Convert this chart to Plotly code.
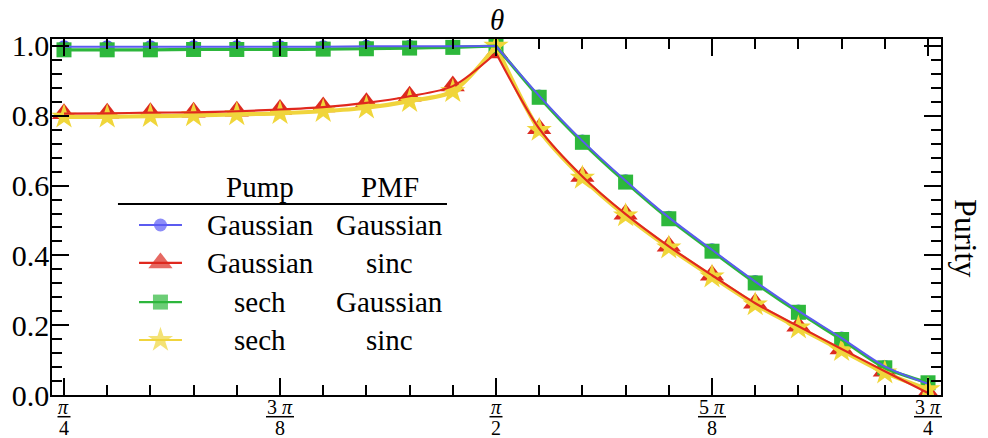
import numpy as np
import plotly.graph_objects as go

pi = np.pi

# theta grid in units of pi
theta_over_pi = [0.250, 0.275, 0.300, 0.325, 0.350, 0.375, 0.400, 0.425, 0.450, 0.475, 0.500,
                 0.525, 0.550, 0.575, 0.600, 0.625, 0.650, 0.675, 0.700, 0.725, 0.750]

purity_gauss_gauss = [0.998, 0.998, 0.998, 0.998, 0.998, 0.998, 0.998, 0.999, 0.999, 0.999, 1.000,
                      0.857, 0.728, 0.614, 0.509, 0.416, 0.325, 0.241, 0.163, 0.082, 0.032]
purity_gauss_sinc = [0.806, 0.807, 0.809, 0.810, 0.813, 0.818, 0.825, 0.837, 0.856, 0.885, 0.980,
                     0.763, 0.626, 0.518, 0.426, 0.343, 0.263, 0.197, 0.132, 0.068, 0.006]
purity_sech_gauss = [0.989, 0.989, 0.989, 0.990, 0.990, 0.990, 0.991, 0.992, 0.994, 0.996, 1.000,
                     0.853, 0.724, 0.610, 0.505, 0.412, 0.321, 0.237, 0.159, 0.078, 0.035]
purity_sech_sinc = [0.797, 0.797, 0.799, 0.801, 0.804, 0.807, 0.813, 0.823, 0.842, 0.870, 1.000,
                    0.759, 0.622, 0.514, 0.422, 0.339, 0.259, 0.193, 0.128, 0.064, 0.016]

pump_labels = ["Gaussian", "Gaussian", "sech", "sech"]
pmf_labels = ["Gaussian", "sinc", "Gaussian", "sinc"]

major_over_pi = [0.25, 0.375, 0.5, 0.625, 0.75]
tick_numerators = ["<i>π</i>", "3 <i>π</i>", "<i>π</i>", "5 <i>π</i>", "3 <i>π</i>"]
tick_denominators = ["4", "8", "2", "8", "4"]
y_major = [0.0, 0.2, 0.4, 0.6, 0.8, 1.0]
y_major_text = ["0.0", "0.2", "0.4", "0.6", "0.8", "1.0"]

theta = [t * pi for t in theta_over_pi]
major_vals = [t * pi for t in major_over_pi]
minor_vals = [t for t, tp in zip(theta, theta_over_pi) if tp not in major_over_pi]

FONT = "Liberation Serif"
XR = [0.7636, 2.3798]
PLOT_W = 889.0

series = [
    dict(y=purity_gauss_gauss, color="#5b5bf5", lcolor="#5b5bf0", symbol="circle", size=13, lw=2.0),
    dict(y=purity_gauss_sinc, color="#dc2a20", lcolor="#e0281e", symbol="triangle-up", size=21, lw=2.2),
    dict(y=purity_sech_gauss, color="#2db83c", lcolor="#2db63c", symbol="square", size=15, lw=3.2),
    dict(y=purity_sech_sinc, color="#f0d63a", lcolor="#f0d43c", symbol="star", size=19, lw=4.2),
]

fig = go.Figure()

# markers
for s in series:
    fig.add_trace(go.Scatter(x=theta, y=s["y"], mode="markers",
                             marker=dict(symbol=s["symbol"], size=s["size"], color=s["color"],
                                         line=dict(width=0)),
                             showlegend=False, hoverinfo="skip"))

# lines (split at the cusp at pi/2, smooth on either side)
mid = theta_over_pi.index(0.5)
for idx in [3, 2, 1, 0]:
    s = series[idx]
    for sl in (slice(0, mid + 1), slice(mid, None)):
        fig.add_trace(go.Scatter(x=theta[sl], y=s["y"][sl], mode="lines",
                                 line=dict(color=s["lcolor"], width=s["lw"], shape="spline", smoothing=0.8),
                                 showlegend=False, hoverinfo="skip"))

# custom table legend (in plot-area fractions)
row_y = [0.4775, 0.371, 0.261, 0.1545]
sym_x0, sym_xm, sym_x1 = 0.0979, 0.122, 0.1462
col1_x, col2_x = 0.234, 0.380
for s, ry in zip(series, row_y):
    fig.add_trace(go.Scatter(x=[sym_x0, sym_xm, sym_x1], y=[ry, ry, ry], mode="lines+markers",
                             xaxis="x2", yaxis="y2",
                             line=dict(color=s["lcolor"], width=2.2),
                             marker=dict(symbol=s["symbol"], size=[0, s["size"], 0], color=s["color"],
                                         line=dict(width=0)),
                             showlegend=False, hoverinfo="skip"))

TXT = dict(family=FONT, size=29, color="black")
annotations = []
shapes = []
annotations.append(dict(text="Pump", x=col1_x, y=0.583, xref="paper", yref="paper", showarrow=False,
                        xanchor="center", yanchor="middle", font=TXT))
annotations.append(dict(text="PMF", x=col2_x, y=0.583, xref="paper", yref="paper", showarrow=False,
                        xanchor="center", yanchor="middle", font=TXT))
for p, m, ry in zip(pump_labels, pmf_labels, row_y):
    annotations.append(dict(text=p, x=col1_x, y=ry, xref="paper", yref="paper", showarrow=False,
                            xanchor="center", yanchor="middle", font=TXT))
    annotations.append(dict(text=m, x=col2_x, y=ry, xref="paper", yref="paper", showarrow=False,
                            xanchor="center", yanchor="middle", font=TXT))
shapes.append(dict(type="line", xref="paper", yref="paper", x0=0.0742, x1=0.4443, y0=0.5365, y1=0.5365,
                   line=dict(color="black", width=2)))

# fraction tick labels on the x axis
FR = dict(family=FONT, size=20, color="black")
for v, num, den in zip(major_vals, tick_numerators, tick_denominators):
    xp = (v - XR[0]) / (XR[1] - XR[0])
    half = (6.5 if num == "<i>π</i>" else 14.0) / PLOT_W
    annotations.append(dict(text=num, x=xp, y=-0.0325, xref="paper", yref="paper", showarrow=False,
                            xanchor="center", yanchor="middle", font=FR))
    annotations.append(dict(text=den, x=xp, y=-0.0935, xref="paper", yref="paper", showarrow=False,
                            xanchor="center", yanchor="middle", font=FR))
    shapes.append(dict(type="line", xref="paper", yref="paper", x0=xp - half, x1=xp + half,
                       y0=-0.061, y1=-0.061, line=dict(color="black", width=1.5)))

# axis titles
annotations.append(dict(text="<i>θ</i>", x=0.5, y=1.052, xref="paper", yref="paper", showarrow=False,
                        xanchor="center", yanchor="middle", font=dict(family=FONT, size=29, color="black")))
annotations.append(dict(text="Purity", x=1.028, y=0.441, xref="paper", yref="paper", showarrow=False,
                        textangle=90, xanchor="center", yanchor="middle",
                        font=dict(family=FONT, size=32, color="black")))

axis_common = dict(showline=True, linecolor="black", linewidth=1.5, mirror="ticks",
                   ticks="inside", ticklen=17, tickwidth=1.5, tickcolor="black",
                   showgrid=False, zeroline=False, automargin=False)

# page has an 8px body margin, so the figure is 8px smaller and offset margins accordingly
fig.update_layout(
    width=980, height=430,
    margin=dict(l=44, r=47, t=31, b=43),
    paper_bgcolor="white", plot_bgcolor="white",
    showlegend=False,
    xaxis=dict(range=XR, tickmode="array", tickvals=major_vals, showticklabels=False,
               minor=dict(tickmode="array", tickvals=minor_vals, ticks="inside", ticklen=10,
                          tickwidth=1.5, tickcolor="black", showgrid=False),
               **axis_common),
    yaxis=dict(range=[0, 1.02], tickmode="array", tickvals=y_major, ticktext=y_major_text,
               tickfont=dict(family=FONT, size=30, color="black"), ticklabelstandoff=-5,
               minor=dict(dtick=0.04, tick0=0, ticks="inside", ticklen=10,
                          tickwidth=1.5, tickcolor="black", showgrid=False),
               **axis_common),
    xaxis2=dict(range=[0, 1], overlaying="x", anchor="y2", visible=False, fixedrange=True),
    yaxis2=dict(range=[0, 1], overlaying="y", anchor="x2", visible=False, fixedrange=True),
    annotations=annotations,
    shapes=shapes,
)

fig.write_html("out.html")
